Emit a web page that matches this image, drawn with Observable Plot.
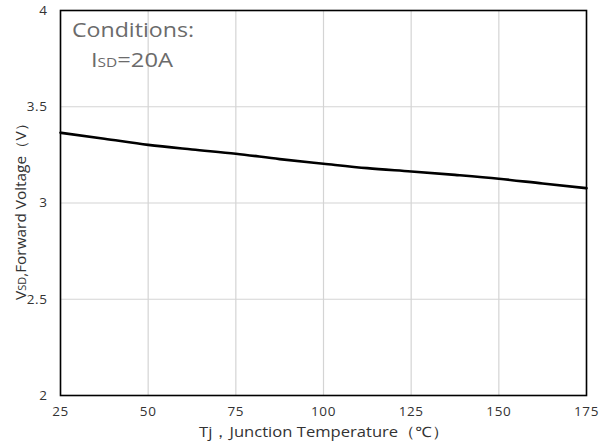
<!DOCTYPE html>
<html>
<head>
<meta charset="utf-8">
<script src="https://cdn.jsdelivr.net/npm/d3@7"></script>
<script src="https://cdn.jsdelivr.net/npm/@observablehq/plot@0.6"></script>
<style>
  html, body { margin: 0; padding: 0; background: #fff; }
  #chart svg { display: block; }
  #chart svg g[aria-label$="tick label"] text { letter-spacing: 0.6px; }
</style>
</head>
<body>
<div id="chart"></div>
<script>
// Data
const temps = [25, 37.5, 50, 62.5, 75, 87.5, 100, 112.5, 125, 137.5, 150, 162.5, 175];
const vsd   = [3.365, 3.334, 3.302, 3.278, 3.256, 3.228, 3.204, 3.181, 3.164, 3.146, 3.126, 3.101, 3.077];
const xTicks = [25, 50, 75, 100, 125, 150, 175];
const yTicks = [2, 2.5, 3, 3.5, 4];

const data = temps.map((t, i) => ({t, v: vsd[i]}));
const font = "'Open Sans', 'Noto Sans', sans-serif";

const chart = Plot.plot({
  width: 600,
  height: 443,
  marginTop: 10,
  marginBottom: 48,
  marginLeft: 60,
  marginRight: 14,
  style: {fontFamily: font, fontSize: "13px", color: "#333", background: "#fff"},
  x: {domain: [25, 175]},
  y: {domain: [2, 4]},
  marks: [
    Plot.gridX(xTicks, {stroke: "#d4d4d4", strokeOpacity: 1, strokeWidth: 1.2}),
    Plot.gridY(yTicks, {stroke: "#d4d4d4", strokeOpacity: 1, strokeWidth: 1.2}),
    Plot.axisX(xTicks, {tickSize: 0, tickPadding: 11, label: null, fontSize: 13.5}),
    Plot.axisY(yTicks, {tickSize: 0, tickPadding: 13, label: null, fontSize: 13.5, tickFormat: d => String(d)}),
    Plot.line(data, {x: "t", y: "v", stroke: "#000", strokeWidth: 2.6, curve: "monotone-x"}),
    Plot.frame({stroke: "#000", strokeWidth: 1.6})
  ]
});
document.getElementById("chart").appendChild(chart);

// Titles and annotation as real text (with small "SD" subscripts)
const svg = d3.select(chart);

// x-axis title
svg.append("text")
  .attr("x", 324).attr("y", 437)
  .attr("text-anchor", "middle")
  .attr("textLength", 250).attr("lengthAdjust", "spacingAndGlyphs")
  .attr("font-family", font).attr("font-size", 14.5).attr("fill", "#333")
  .text("Tj，Junction Temperature（℃）");

// y-axis title
const yl = svg.append("text")
  .attr("transform", "translate(26,208) rotate(-90)")
  .attr("text-anchor", "middle")
  .attr("textLength", 184).attr("lengthAdjust", "spacingAndGlyphs")
  .attr("font-family", font).attr("font-size", 14).attr("fill", "#333");
yl.append("tspan").text("V");
yl.append("tspan").attr("font-size", 10).text("SD");
yl.append("tspan").text(",Forward Voltage（V）");

// Conditions annotation
svg.append("text")
  .attr("x", 72).attr("y", 37)
  .attr("text-anchor", "start")
  .attr("textLength", 122).attr("lengthAdjust", "spacingAndGlyphs")
  .attr("font-family", font).attr("font-size", 20).attr("fill", "#6b6b6b")
  .text("Conditions:");
const cond = svg.append("text")
  .attr("x", 91).attr("y", 67)
  .attr("text-anchor", "start")
  .attr("textLength", 82).attr("lengthAdjust", "spacingAndGlyphs")
  .attr("font-family", font).attr("font-size", 20).attr("fill", "#6b6b6b");
cond.append("tspan").text("I");
cond.append("tspan").attr("font-size", 13).text("SD");
cond.append("tspan").text("=20A");
</script>
</body>
</html>
